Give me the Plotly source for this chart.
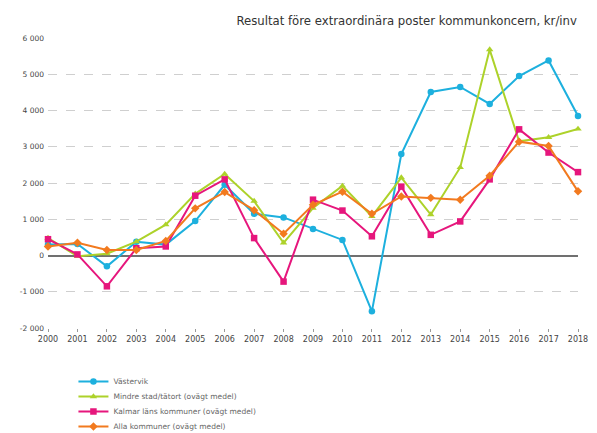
import plotly.graph_objects as go

years = list(range(2000, 2019))
vastervik = [300, 320, -300, 380, 300, 950, 1950, 1150, 1050, 730, 430, -1540, 2800, 4510, 4650, 4180, 4950, 5380, 3850]
mindre = [480, -20, 50, 380, 850, 1700, 2250, 1500, 350, 1310, 1920, 1080, 2150, 1130, 2430, 5680, 3150, 3260, 3490]
kalmar = [450, 30, -850, 200, 250, 1650, 2100, 480, -720, 1540, 1240, 530, 1900, 570, 940, 2100, 3480, 2840, 2300]
alla = [250, 350, 150, 150, 400, 1300, 1750, 1250, 600, 1400, 1760, 1150, 1630, 1590, 1540, 2200, 3140, 3020, 1770]

series = [
    ("Västervik", vastervik, "#1DB0DE", "circle"),
    ("Mindre stad/tätort (ovägt medel)", mindre, "#ADD22A", "triangle-up"),
    ("Kalmar läns kommuner (ovägt medel)", kalmar, "#E6167C", "square"),
    ("Alla kommuner (ovägt medel)", alla, "#F27A1F", "diamond"),
]

yticks = [-2000, -1000, 0, 1000, 2000, 3000, 4000, 5000, 6000]
ytick_labels = ["-2 000", "-1 000", "0", "1 000", "2 000", "3 000", "4 000", "5 000", "6 000"]

# page body has an 8px margin; figure coordinates below compensate for it
H = 433
legend_bottoms = [388, 403, 418, 433]
legend_ids = ["legend", "legend2", "legend3", "legend4"]

fig = go.Figure()
for (name, vals, color, sym), lid in zip(series, legend_ids):
    fig.add_trace(go.Scatter(
        x=years, y=vals, name=name, mode="lines+markers",
        line=dict(color=color, width=2),
        marker=dict(color=color, symbol=sym, size=6.5),
        cliponaxis=False, legend=lid,
    ))

layout_legends = {}
for lid, b in zip(legend_ids, legend_bottoms):
    layout_legends[lid] = dict(
        orientation="v", xref="paper", yref="container",
        x=0.048, xanchor="left", y=max(0.0, 1 - b / H), yanchor="bottom",
        font=dict(size=7.5, color="#666666"),
        bgcolor="rgba(0,0,0,0)", itemwidth=30,
    )

fig.update_layout(
    width=597, height=433,
    paper_bgcolor="white", plot_bgcolor="white",
    margin=dict(l=40, r=27, t=30, b=113),
    font=dict(family="DejaVu Sans, sans-serif", color="#555555"),
    title=dict(
        text="Resultat före extraordinära poster kommunkoncern, kr/inv",
        x=0.953, xanchor="right", xref="container",
        y=0.970, yanchor="middle", yref="container",
        font=dict(size=11.7, color="#333333", family="DejaVu Sans, sans-serif"),
    ),
    showlegend=True,
    xaxis=dict(
        range=[2000, 2018], tickmode="array", tickvals=years,
        ticktext=[str(y) for y in years],
        showgrid=False, zeroline=False, showline=False,
        ticks="outside", ticklen=3, tickcolor="#999999", tickwidth=1,
        tickfont=dict(size=8, color="#444444"),
    ),
    yaxis=dict(
        range=[-2000, 6000], tickmode="array", tickvals=yticks, ticktext=ytick_labels,
        showgrid=True, gridcolor="#cfcfcf", griddash="dash", gridwidth=1,
        zeroline=True, zerolinecolor="#707070", zerolinewidth=2,
        showline=False, ticks="", tickfont=dict(size=7.5, color="#444444"),
        ticklabelstandoff=3,
    ),
    **layout_legends,
)

fig.write_html("out.html")
